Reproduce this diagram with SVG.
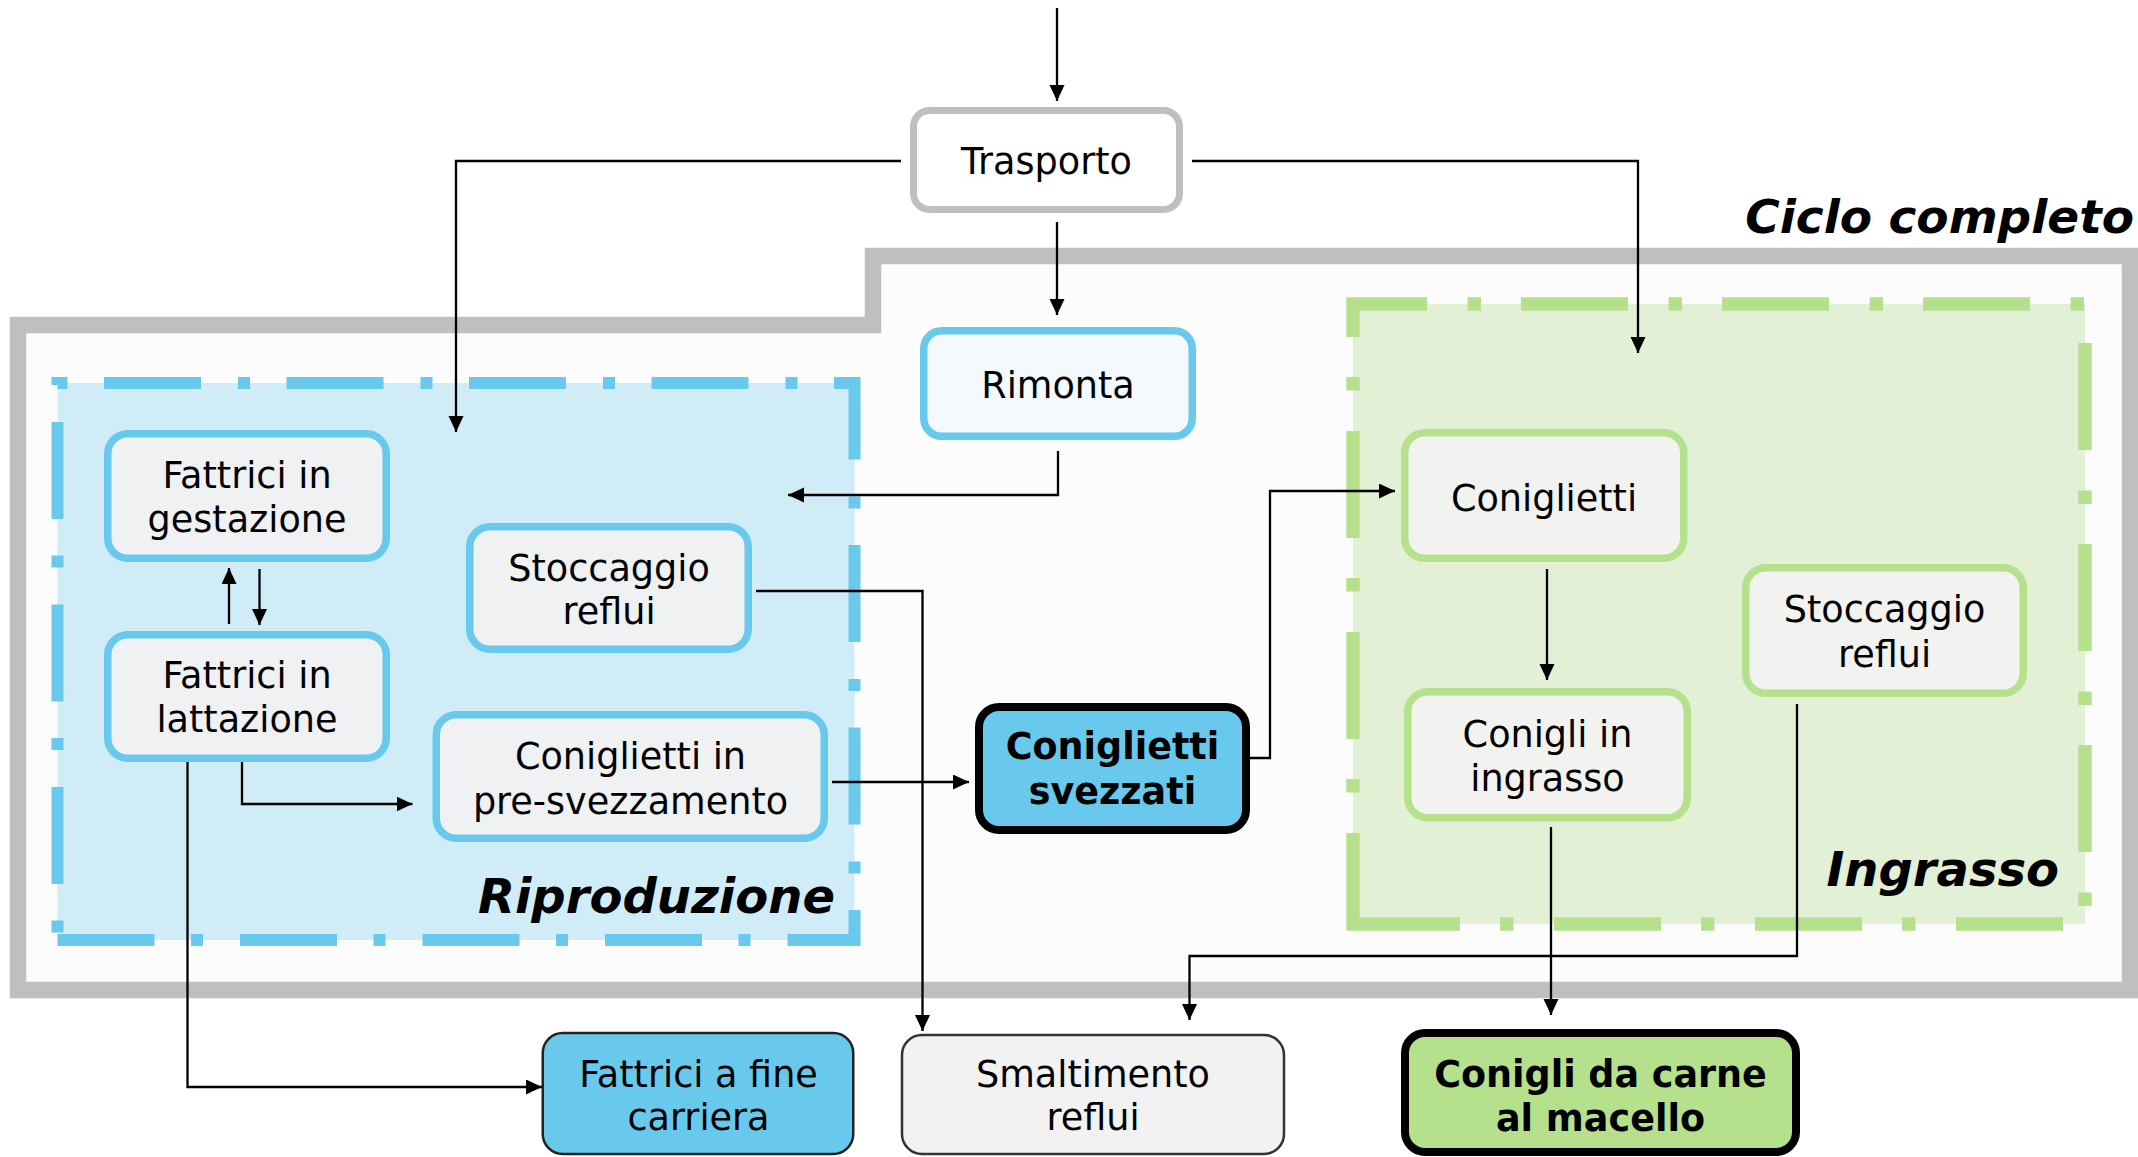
<svg xmlns="http://www.w3.org/2000/svg" width="2138" height="1157" viewBox="0 0 2138 1157">
<style>
text{font-family:"DejaVu Sans","Verdana","Liberation Sans",sans-serif;fill:#000;text-anchor:middle}
.t{font-size:36.6px}
.b{font-size:36.5px;font-weight:bold}
.title{font-size:48px;font-weight:bold;font-style:italic;text-anchor:end}
.nb{fill:#eff1f3;stroke:#68c9ed;stroke-width:7.5}
.ng{fill:#f2f2f0;stroke:#b5e08c;stroke-width:7.5}
.c{fill:none;stroke:#000;stroke-width:2.3;marker-end:url(#ah)}
</style>
<defs>
<marker id="ah" markerUnits="userSpaceOnUse" markerWidth="17" markerHeight="16" refX="16" refY="7.5" orient="auto">
<path d="M0,0 L16,7.5 L0,15 z" fill="#000"/>
</marker>
</defs>
<rect width="2138" height="1157" fill="#fff"/>
<g id="ciclo">
<path d="M18,325 H873 V256 H2130 V990 H18 Z" fill="#fcfcfc" stroke="#bfbfbf" stroke-width="16.5"/>
<text class="title" x="2134" y="233" style="font-size:47px">Ciclo completo</text>
</g>
<g id="riproduzione">
<path d="M57.5,940 H854.5 V383 H57.5 Z" fill="#d0ecf7" stroke="#68c9ed" stroke-width="12" stroke-dasharray="97 36.5 12 37"/>
<text class="title" x="835" y="913">Riproduzione</text>
</g>
<g id="ingrasso">
<path d="M1353,924 H2085 V304 H1353 Z" fill="#e2f0d5" stroke="#b5e08c" stroke-width="13.4" stroke-dasharray="107 40 13.4 40.6"/>
<text class="title" x="2059" y="886">Ingrasso</text>
</g>
<g id="connectors">
<path class="c" d="M1057,8 V101"/>
<path class="c" d="M1057,222 V315"/>
<path class="c" d="M901,161 H456 V432"/>
<path class="c" d="M1192,161 H1638 V353"/>
<path class="c" d="M1058,451 V495 H788"/>
<path class="c" d="M229,624 V568"/>
<path class="c" d="M259.5,569 V625"/>
<path class="c" d="M242,761 V804 H412.5"/>
<path class="c" d="M187.5,761 V1087 H542"/>
<path class="c" d="M756,591 H922.5 V1031"/>
<path class="c" d="M832,782 H969"/>
<path class="c" d="M1250,758 H1270 V491 H1395"/>
<path class="c" d="M1547,569 V680"/>
<path class="c" d="M1551,827 V1015"/>
<path class="c" d="M1797,704 V956 H1189.5 V1020"/>
</g>
<g id="trasporto">
<rect x="913.5" y="110.5" width="266" height="99" rx="16" fill="#fff" stroke="#bfbfbf" stroke-width="7"/>
<text class="t" x="1046.5" y="174">Trasporto</text>
</g>
<g id="rimonta">
<rect x="923.75" y="330.75" width="268.5" height="105.5" rx="18" fill="#f4f9fd" stroke="#68c9ed" stroke-width="7.5"/>
<text class="t" x="1058" y="397.5">Rimonta</text>
</g>
<g id="gestazione">
<rect class="nb" x="107.75" y="433.75" width="278.5" height="124.5" rx="20"/>
<text class="t" x="247" y="487.5">Fattrici in</text>
<text class="t" x="247" y="532">gestazione</text>
</g>
<g id="lattazione">
<rect class="nb" x="107.75" y="634.75" width="278.5" height="123.5" rx="20"/>
<text class="t" x="247" y="688">Fattrici in</text>
<text class="t" x="247" y="732">lattazione</text>
</g>
<g id="stoccaggio-riproduzione">
<rect class="nb" x="469.75" y="526.75" width="278.5" height="122.5" rx="20"/>
<text class="t" x="609" y="581">Stoccaggio</text>
<text class="t" x="609" y="624">reflui</text>
</g>
<g id="pre-svezzamento">
<rect class="nb" x="436.25" y="714.75" width="388" height="123.5" rx="20"/>
<text class="t" x="630.5" y="769">Coniglietti in</text>
<text class="t" x="630.5" y="813.5">pre-svezzamento</text>
</g>
<g id="svezzati">
<rect x="979" y="707" width="267" height="123" rx="20" fill="#68c9ed" stroke="#000" stroke-width="8"/>
<text class="b" x="1112.5" y="759">Coniglietti</text>
<text class="b" x="1112.5" y="804">svezzati</text>
</g>
<g id="coniglietti">
<rect class="ng" x="1404.75" y="432.75" width="279" height="125.5" rx="20"/>
<text class="t" x="1544" y="511">Coniglietti</text>
</g>
<g id="conigli-ingrasso">
<rect class="ng" x="1407.75" y="691.75" width="279.5" height="126" rx="20"/>
<text class="t" x="1547.5" y="747">Conigli in</text>
<text class="t" x="1547.5" y="791">ingrasso</text>
</g>
<g id="stoccaggio-ingrasso">
<rect class="ng" x="1745.75" y="567.75" width="277.5" height="125.5" rx="20"/>
<text class="t" x="1884.5" y="622">Stoccaggio</text>
<text class="t" x="1884.5" y="666.5">reflui</text>
</g>
<g id="fine-carriera">
<rect x="542.75" y="1033" width="310.5" height="121" rx="20" fill="#68c9ed" stroke="#222" stroke-width="2.5"/>
<text class="t" x="698.5" y="1087">Fattrici a fine</text>
<text class="t" x="698.5" y="1130">carriera</text>
</g>
<g id="smaltimento">
<rect x="902" y="1035" width="382" height="119" rx="20" fill="#f2f2f2" stroke="#333" stroke-width="2.5"/>
<text class="t" x="1093" y="1087">Smaltimento</text>
<text class="t" x="1093" y="1130">reflui</text>
</g>
<g id="macello">
<rect x="1405" y="1033" width="391" height="119" rx="20" fill="#b5e08c" stroke="#000" stroke-width="8"/>
<text class="b" x="1600.5" y="1087">Conigli da carne</text>
<text class="b" x="1600.5" y="1131">al macello</text>
</g>
</svg>
